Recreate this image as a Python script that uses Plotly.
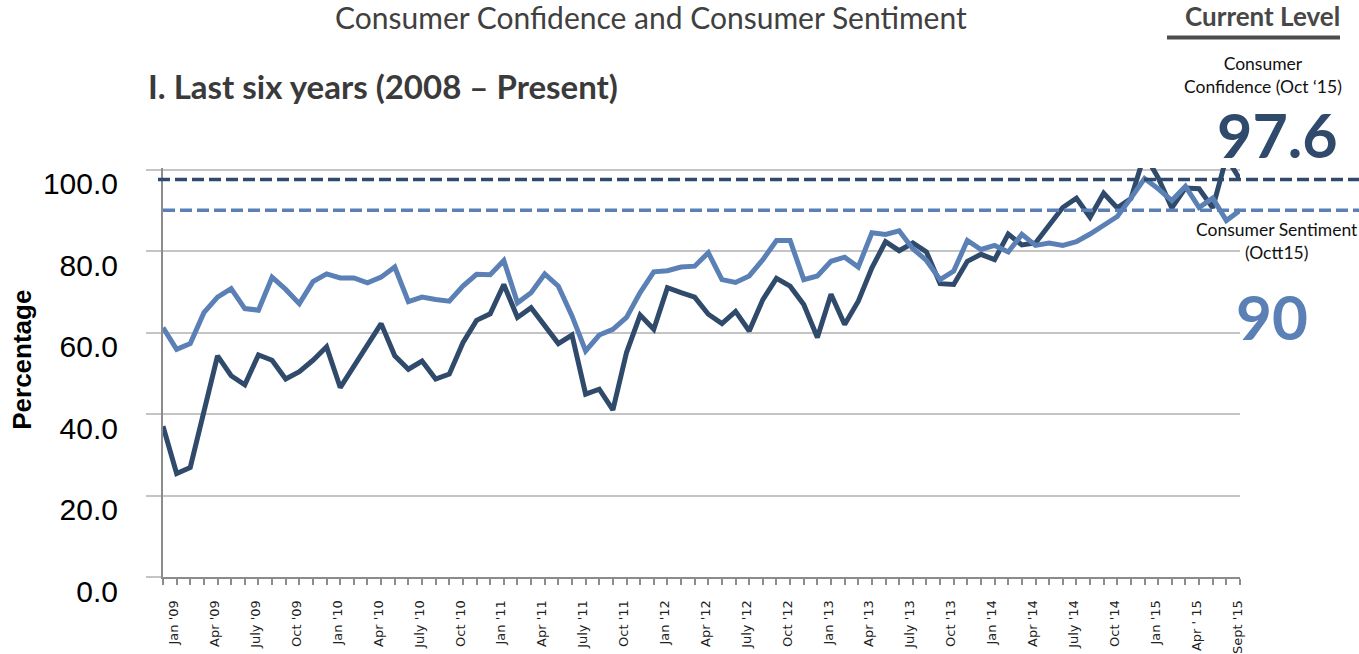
import plotly.graph_objects as go

# ---------------- data ----------------
consumer_confidence = [37.0, 25.4, 26.9, 40.0, 54.3, 49.4, 47.2, 54.5, 53.2, 48.6,
                       50.4, 53.2, 56.5, 46.5, 51.8, 57.3, 62.2, 54.3, 51.0, 53.0,
                       48.6, 49.8, 57.5, 63.0, 64.6, 71.8, 63.7, 66.1, 61.6, 57.3,
                       59.4, 44.9, 46.1, 41.0, 55.1, 64.3, 60.8, 71.0, 69.8, 68.7,
                       64.5, 62.2, 65.2, 60.4, 68.1, 73.3, 71.4, 66.9, 58.8, 69.4,
                       62.0, 67.7, 75.9, 82.3, 80.1, 82.0, 79.8, 72.0, 71.8, 77.5,
                       79.2, 77.9, 84.2, 81.5, 82.0, 86.5, 90.7, 93.0, 88.3, 94.2,
                       90.6, 92.9, 103.8, 98.0, 90.6, 95.5, 95.3, 90.6, 103.0, 97.6]

consumer_sentiment = [61.2, 55.9, 57.3, 64.9, 68.7, 70.8, 65.9, 65.5, 73.6, 70.6,
                      67.1, 72.5, 74.4, 73.4, 73.4, 72.2, 73.6, 76.1, 67.6, 68.7,
                      68.1, 67.7, 71.4, 74.3, 74.2, 77.7, 67.3, 69.8, 74.4, 71.4,
                      64.1, 55.5, 59.4, 60.8, 63.7, 69.8, 74.9, 75.2, 76.1, 76.3,
                      79.6, 73.0, 72.3, 73.9, 77.9, 82.6, 82.6, 73.0, 73.9, 77.5,
                      78.5, 76.1, 84.5, 84.1, 85.0, 80.6, 77.7, 73.0, 75.1, 82.6,
                      80.4, 81.4, 79.8, 84.1, 81.4, 82.0, 81.4, 82.3, 84.2, 86.5,
                      88.5, 93.0, 97.8, 95.3, 92.4, 95.9, 90.7, 93.0, 87.5, 90.0]

periods = list(range(len(consumer_confidence)))

tick_labels = ["Jan '09", "Apr '09", "July '09", "Oct '09",
               "Jan '10", "Apr '10", "July '10", "Oct '10",
               "Jan '11", "Apr '11", "July '11", "Oct '11",
               "Jan '12", "Apr '12", "July '12", "Oct '12",
               "Jan '13", "Apr '13", "July '13", "Oct '13",
               "Jan '14", "Apr '14", "July '14", "Oct '14",
               "Jan '15", "Apr ' 15", "Sept '15"]
tick_positions = list(range(0, 3 * len(tick_labels), 3))

current_confidence = 97.6
current_sentiment = 90

y_ticks = [0, 20, 40, 60, 80, 100]
y_max = 100.4

# ---------------- styling ----------------
DARK = "#2f4a6b"
LIGHT = "#5b80b6"
GRID = "#c4c4c4"
AXIS = "#8c8c8c"

W, H = 1359, 654
L, R, T, B = 163, 1240, 168.4, 577


def px(x):
    return (x - L) / (R - L)


def py(y):
    return (B - y) / (B - T)


fig = go.Figure()
fig.add_trace(go.Scatter(x=periods, y=consumer_confidence, mode="lines",
                         line=dict(color=DARK, width=5), name="Consumer Confidence",
                         showlegend=False))
fig.add_trace(go.Scatter(x=periods, y=consumer_sentiment, mode="lines",
                         line=dict(color=LIGHT, width=5), name="Consumer Sentiment",
                         showlegend=False))

# current level dashed reference lines
fig.add_shape(type="line", xref="paper", yref="y", x0=px(158), x1=px(1359),
              y0=current_confidence, y1=current_confidence,
              line=dict(color=DARK, width=3.5, dash="12px,5px"))
fig.add_shape(type="line", xref="paper", yref="y", x0=px(163), x1=px(1359),
              y0=current_sentiment, y1=current_sentiment,
              line=dict(color=LIGHT, width=3.5, dash="12px,5px"))

# underline for "Current Level"
fig.add_shape(type="line", xref="paper", yref="paper", x0=px(1167), x1=px(1340),
              y0=py(38), y1=py(38), line=dict(color="#4d4d4d", width=4))

TITLE_FONT = "Lato"
ann = []
ann.append(dict(text="Consumer Confidence and Consumer Sentiment", x=px(651), y=py(18),
                xanchor="center", yanchor="middle",
                font=dict(family=TITLE_FONT, size=30, color="#404040")))
ann.append(dict(text="<b>I. Last six years (2008 – Present)</b>", x=px(146), y=py(86),
                xanchor="left", yanchor="middle",
                font=dict(family=TITLE_FONT, size=33, color="#3a3a3a")))
ann.append(dict(text="<b>Current Level</b>", x=px(1262), y=py(17),
                xanchor="center", yanchor="middle",
                font=dict(family=TITLE_FONT, size=26, color="#474747")))
ann.append(dict(text="Consumer<br>Confidence (Oct ‘15)", x=px(1263), y=py(75),
                xanchor="center", yanchor="middle",
                font=dict(family=TITLE_FONT, size=17.5, color="#111111")))
ann.append(dict(text=f"<b>{current_confidence}</b>", x=px(1277), y=py(135),
                xanchor="center", yanchor="middle",
                font=dict(family=TITLE_FONT, size=61, color=DARK, weight=900)))
ann.append(dict(text="Consumer Sentiment<br>(Octt15)", x=px(1277), y=py(241),
                xanchor="center", yanchor="middle",
                font=dict(family=TITLE_FONT, size=17.5, color="#111111")))
ann.append(dict(text=f"<b>{current_sentiment}</b>", x=px(1272), y=py(316),
                xanchor="center", yanchor="middle",
                font=dict(family=TITLE_FONT, size=62, color=LIGHT, weight=900)))
ann.append(dict(text="<b>Percentage</b>", x=px(22), y=py(360), textangle=-90,
                xanchor="center", yanchor="middle",
                font=dict(family="Liberation Sans", size=26, color="#000000")))
for a in ann:
    a.update(xref="paper", yref="paper", showarrow=False)

fig.update_layout(
    width=W, height=H,
    margin=dict(l=L, r=W - R, t=T, b=H - B, pad=0, autoexpand=False),
    paper_bgcolor="white", plot_bgcolor="white",
    annotations=ann,
    showlegend=False,
    xaxis=dict(range=[0, len(periods) - 1], tickmode="array",
               tickvals=tick_positions, ticktext=tick_labels, tickangle=-90,
               ticks="outside", ticklen=6, tickwidth=1.5, tickcolor=AXIS,
               minor=dict(ticks="outside", ticklen=6, tickwidth=1.5, tickcolor=AXIS,
                          dtick=1, tick0=0, showgrid=False),
               showgrid=False, zeroline=False, showline=True, linecolor=AXIS,
               linewidth=2, ticklabelshift=11, ticklabelstandoff=10, automargin=False,
               tickfont=dict(family="DejaVu Sans", size=13, color="#222222")),
    yaxis=dict(range=[0, y_max], tickmode="array", tickvals=y_ticks,
               tickformat=".1f", ticks="outside", ticklen=15, tickwidth=2,
               tickcolor=GRID, showgrid=True, gridcolor=GRID, gridwidth=2,
               zeroline=False, showline=True, linecolor=AXIS, linewidth=2,
               ticklabelshift=14, ticklabelstandoff=22, automargin=False,
               tickfont=dict(family="Liberation Sans", size=30, color="#000000")),
)

fig.write_html("out.html", config={"displayModeBar": False},
               post_script="document.body.style.margin='0';document.body.style.overflow='hidden';")
